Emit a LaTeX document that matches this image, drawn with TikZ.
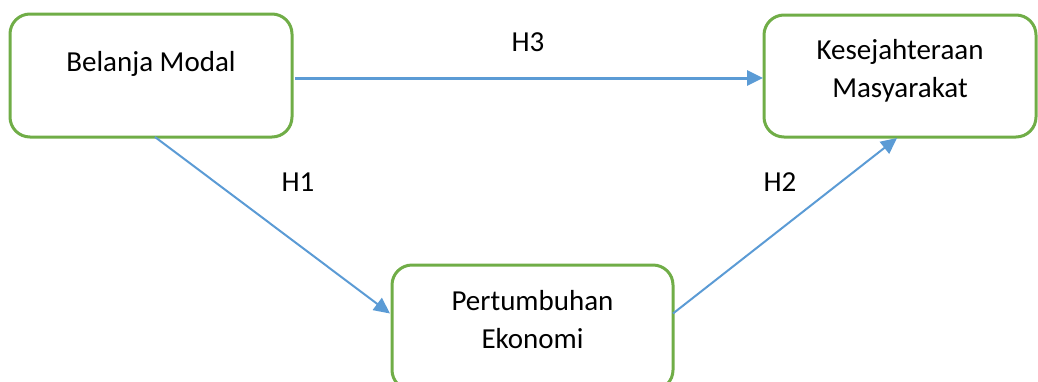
\documentclass[tikz,border=0pt]{standalone}
\usepackage{fontspec}
\setmainfont{Carlito}
\usetikzlibrary{arrows.meta}
\definecolor{boxgreen}{HTML}{70AD47}
\definecolor{arrowblue}{HTML}{5B9BD5}
\begin{document}
\begin{tikzpicture}[x=1pt,y=-1pt,
  box/.style={draw=boxgreen, line width=3pt, rounded corners=20pt, inner sep=0pt, outer sep=0pt},
  txt/.style={font=\fontsize{29}{38}\selectfont, align=center, inner sep=0pt},
  arr/.style={draw=arrowblue, -{Triangle[length=16pt,width=15pt]}}]
\useasboundingbox (0,0) rectangle (1038,381);
\clip (0,0) rectangle (1038,381);
\node[box, minimum width=282pt, minimum height=123pt] (B) at (151,75.5) {};
\node[box, minimum width=272pt, minimum height=122pt] (K) at (900,76) {};
\node[box, minimum width=281pt, minimum height=125pt] (P) at (532.5,327.5) {};
\node[txt] (Bt) at (151,64) {Belanja Modal};
\node[txt] (Kt) at (900,71) {Kesejahteraan\\Masyarakat};
\node[txt] (Pt) at (532.5,320) {Pertumbuhan\\Ekonomi};
\draw[arr, line width=3pt] ([yshift=-2.5pt,xshift=3pt]B.east) -- ([yshift=-2pt,xshift=-1pt]K.west);
\draw[arr, line width=2pt] ([xshift=4pt]B.south) -- ([yshift=14pt,xshift=-2pt]P.west);
\draw[arr, line width=2pt] ([yshift=14pt]P.east) -- ([xshift=-3pt,yshift=-1pt]K.south);
\node[txt] (H3) at (528,42) {H3};
\node[txt] (H1) at (298,182) {H1};
\node[txt] (H2) at (780,182) {H2};
\end{tikzpicture}
\end{document}
